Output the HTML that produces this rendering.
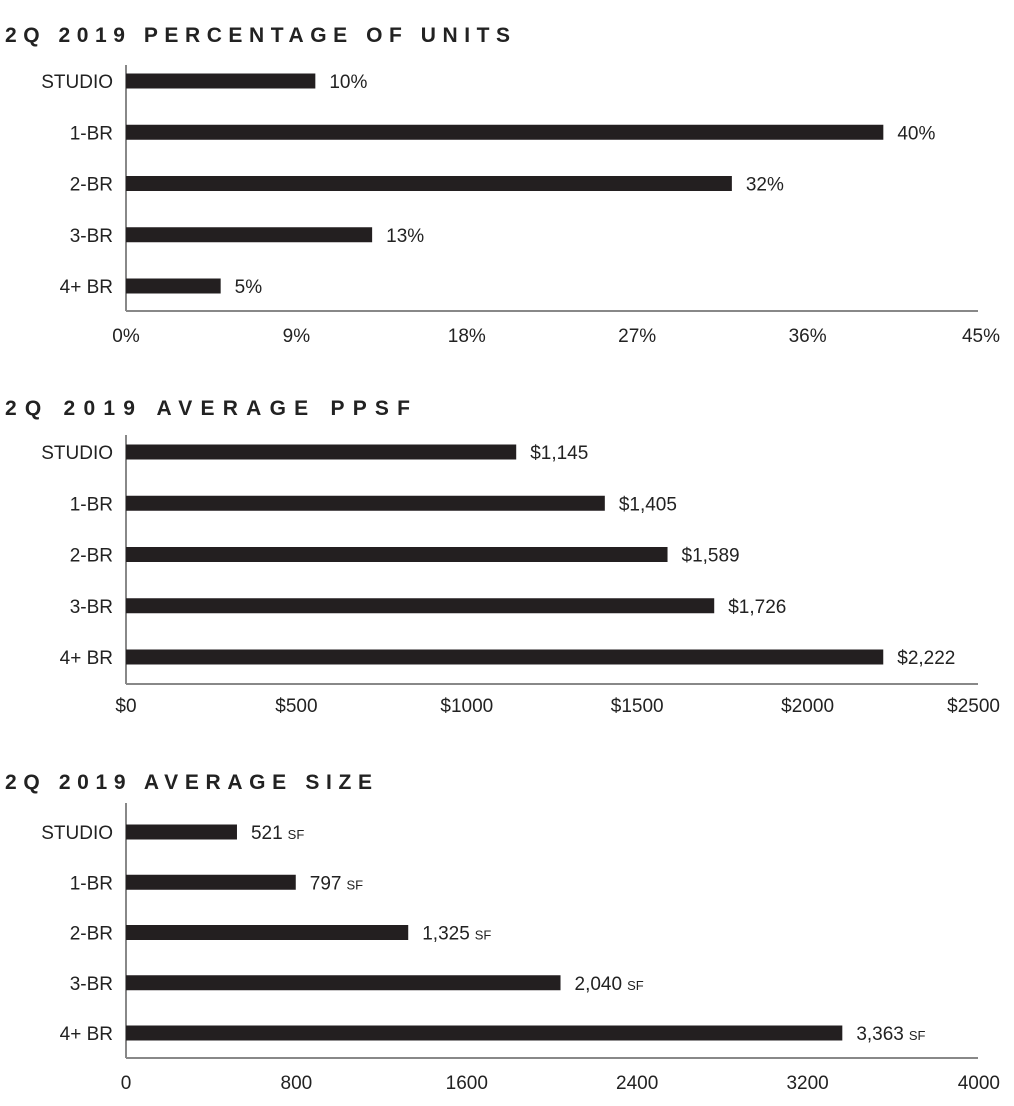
<!DOCTYPE html>
<html><head><meta charset="utf-8"><style>
html,body{margin:0;padding:0;background:#fff;}
svg{display:block;font-family:"Liberation Sans",sans-serif;}
</style></head><body>
<svg id="c" width="1014" height="1106" viewBox="0 0 1014 1106"></svg>
<script>
const categories = ["STUDIO","1-BR","2-BR","3-BR","4+ BR"];
const pctValues = [10,40,32,13,5];
const pctLabels = ["10%","40%","32%","13%","5%"];
const pctTicks = ["0%","9%","18%","27%","36%","45%"];
const ppsfValues = [1145,1405,1589,1726,2222];
const ppsfLabels = ["$1,145","$1,405","$1,589","$1,726","$2,222"];
const ppsfTicks = ["$0","$500","$1000","$1500","$2000","$2500"];
const sizeValues = [521,797,1325,2040,3363];
const sizeLabels = ["521","797","1,325","2,040","3,363"];
const sizeTicks = ["0","800","1600","2400","3200","4000"];

const NS="http://www.w3.org/2000/svg";
const svg=document.getElementById('c');
function mk(tag,attrs,parent){const e=document.createElementNS(NS,tag);for(const k in attrs)e.setAttribute(k,attrs[k]);(parent||svg).appendChild(e);return e;}

function chart(cfg){
  const g=mk('g',{});
  
  
  const x0=126,x1=978;
  const xs=v=>x0+v/cfg.max*(x1-x0);
  const t=mk('text',{x:5,y:cfg.titleY,'font-size':21,'font-weight':'bold',fill:'#222',textLength:cfg.titleW,lengthAdjust:'spacing'},g);
  t.textContent=cfg.title;
  
  
  const ya=mk('line',{x1:x0,x2:x0,y1:cfg.axisTop,y2:cfg.base,stroke:'#888','stroke-width':2},g);
  
  
  const xa=mk('line',{x1:x0,x2:x1,y1:cfg.base,y2:cfg.base,stroke:'#888','stroke-width':2},g);
  
  
  categories.forEach((c,i)=>{
    const cy=cfg.rows[0]+i*(cfg.rows[1]-cfg.rows[0])/4;
    const lab=mk('text',{x:113,y:cy+7,'font-size':19,'text-anchor':'end',fill:'#222'},g);
    lab.textContent=c;
    
    
    const v=cfg.values[i];
    const b=mk('rect',{x:x0,y:cy-7.5,width:xs(v)-x0,height:15,fill:'#231f20'},g);
    
    
    const vl=mk('text',{x:xs(v)+14,y:cy+7,'font-size':19,fill:'#222'},g);
    vl.textContent=cfg.labels[i];
    if(cfg.suffix){const s=mk('tspan',{'font-size':13,dx:5},vl);s.textContent=cfg.suffix;}
    
    
  });
  cfg.ticks.forEach((tk,i)=>{
    const x=x0+i*(x1-x0)/(cfg.ticks.length-1);
    const tt=mk('text',{x:i===cfg.ticks.length-1?Math.min(x,1012-0):x,y:cfg.tickY,'font-size':19,'text-anchor':i===cfg.ticks.length-1?'end':'middle',fill:'#222'},g);
    if(i===cfg.ticks.length-1) tt.setAttribute('x',1000);
    tt.textContent=tk;
    
    
  });
}
chart({name:'percentage-of-units-chart',title:'2Q 2019 PERCENTAGE OF UNITS',titleY:42,titleW:505,axisTop:65,base:311,rows:[81,286],max:45,values:pctValues,labels:pctLabels,ticks:pctTicks,tickY:342});
chart({name:'average-ppsf-chart',title:'2Q 2019 AVERAGE PPSF',titleY:415,titleW:405,axisTop:435,base:684,rows:[452,657],max:2500,values:ppsfValues,labels:ppsfLabels,ticks:ppsfTicks,tickY:712});
chart({name:'average-size-chart',title:'2Q 2019 AVERAGE SIZE',titleY:789,titleW:367,axisTop:803,base:1058,rows:[832,1033],max:4000,values:sizeValues,labels:sizeLabels,ticks:sizeTicks,tickY:1089,suffix:'SF'});
</script>
</body></html>
